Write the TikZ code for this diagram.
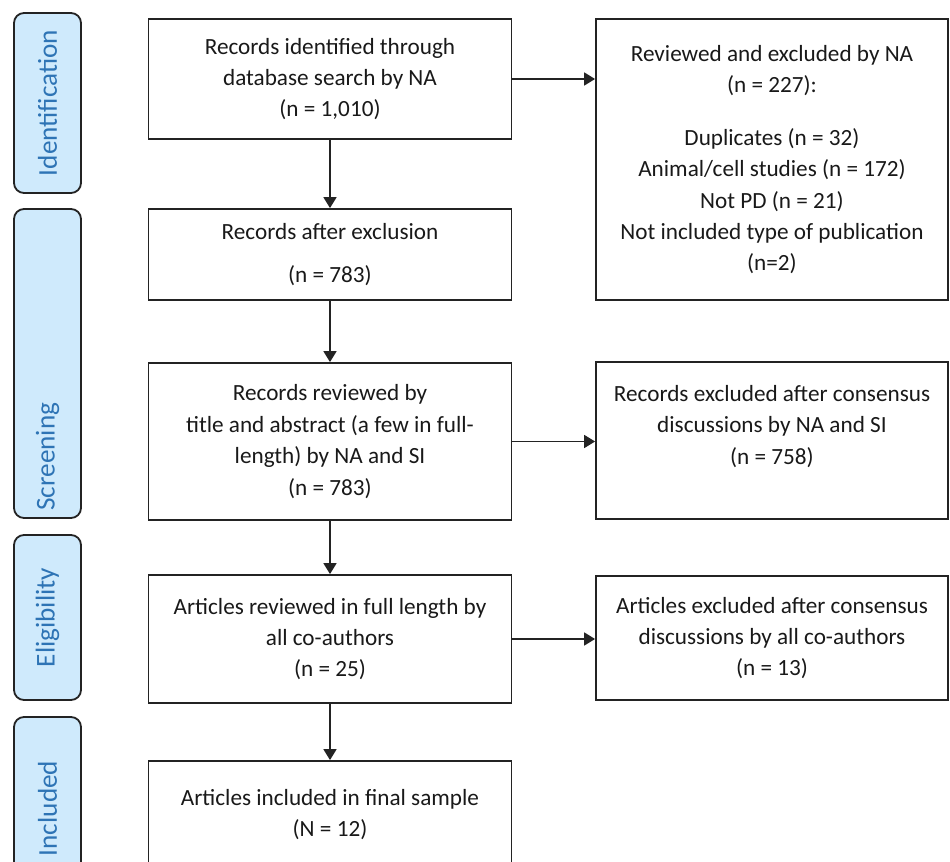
\documentclass[tikz,border=0pt]{standalone}
\usepackage{fontspec}
\setmainfont{Carlito}
\usetikzlibrary{arrows.meta,positioning}
\definecolor{stageblue}{RGB}{46,116,181}
\definecolor{stagefill}{RGB}{207,234,252}
\definecolor{frame}{RGB}{35,35,35}
\definecolor{ink}{RGB}{25,25,25}
\tikzset{
  flow/.style={rectangle,draw=frame,line width=0.9pt,text=ink,
               minimum width=#1,align=center,inner sep=0pt,
               font=\fontsize{11.6}{15.7}\selectfont},
  flow/.default=181.5pt,
  side/.style={flow=176pt},
  stage/.style={rectangle,rounded corners=5pt,draw=frame,line width=0.9pt,
                fill=stagefill,text=stageblue,rotate=90,
                minimum width=#1,minimum height=33.5pt,
                font=\fontsize{13.6}{16}\selectfont},
  arrow/.style={-{Triangle[length=5.5pt,width=6.5pt]},line width=0.9pt,frame},
}
\begin{document}
\begin{tikzpicture}[x=0.5pt,y=-0.5pt]
    \useasboundingbox (0,0) rectangle (950,862);

    % phase labels
    \node[stage=90pt]   (idn) at (47.5,103)   {Identification};
    \node[stage=154.5pt,text width=147pt,align=left,inner xsep=2.5pt]
                        (scr) at (47.5,363.5) {Screening};
    \node[stage=82.5pt] (elg) at (47.5,617.5) {Eligibility};
    \node[stage=91.5pt] (inc) at (47.5,808.5) {Included};

    % main column
    \node[flow,minimum height=60pt]   (b1) at (330,79)
        {Records identified through\\database search by NA\\(n = 1,010)};
    \node[flow,minimum height=45.5pt] (b2) at (330,254.5)
        {Records after exclusion\\[5.5pt](n = 783)};
    \node[flow,minimum height=78.5pt] (b3) at (330,441.5)
        {Records reviewed by\\title and abstract (a few in full-\\length) by NA and SI\\(n = 783)};
    \node[flow,minimum height=64pt]   (b4) at (330,639)
        {Articles reviewed in full length by\\all co-authors\\(n = 25)};
    \node[flow,minimum height=53.5pt] (b5) at (330,814.5)
        {Articles included in final sample\\(N = 12)};

    % excluded column
    \node[side,minimum height=140.5pt] (r1) at (772,159.5)
        {Reviewed and excluded by NA\\(n = 227):\\[10.7pt]Duplicates (n = 32)\\Animal/cell studies (n = 172)\\Not PD (n = 21)\\Not included type of publication\\(n=2)};
    \node[side,minimum height=78.5pt]  (r2) at (772,440.5)
        {Records excluded after consensus\\discussions by NA and SI\\(n = 758)\\\mbox{}};
    \node[side,minimum height=62pt]    (r3) at (772,638)
        {Articles excluded after consensus\\discussions by all co-authors\\(n = 13)};

    \foreach \a/\b in {b1/b2,b2/b3,b3/b4,b4/b5}
      \draw[arrow] (\a) -- (\b);

    \draw[arrow] (b1.east) -- (b1.east -| r1.west);
    \draw[arrow] (b3.east) -- (b3.east -| r2.west);
    \draw[arrow] (b4.east) -- (b4.east -| r3.west);

\end{tikzpicture}
\end{document}
